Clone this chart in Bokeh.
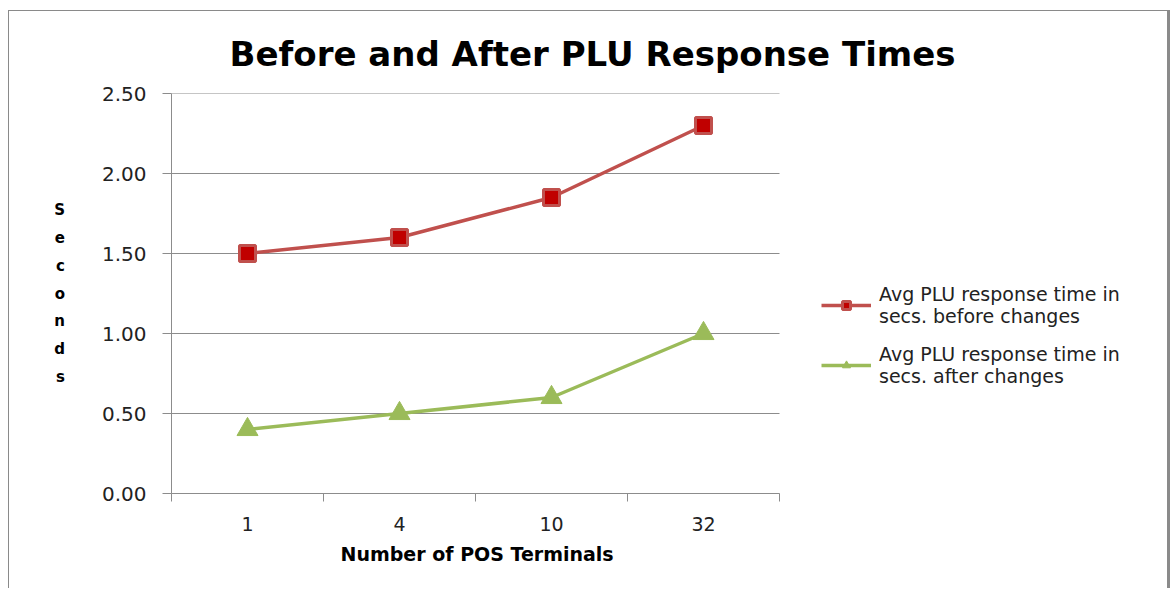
from bokeh.plotting import figure
from bokeh.models import FixedTicker, Legend, LegendItem, NumeralTickFormatter, Title
from bokeh.embed import file_html
from bokeh.resources import INLINE

categories = ["1", "4", "10", "32"]
before = [1.50, 1.60, 1.85, 2.30]
after = [0.40, 0.50, 0.60, 1.00]
y_ticks = [0.0, 0.5, 1.0, 1.5, 2.0, 2.5]
title_text = "Before and After PLU Response Times"
x_title = "Number of  POS Terminals"
y_title = "Seconds"
label_before = "Avg PLU response time in\nsecs. before changes"
label_after = "Avg PLU response time in\nsecs. after changes"

FONT = "DejaVu Sans"
RED_LINE = "#C0504D"
RED_FILL = "#C00000"
GREEN = "#9BBB59"
GRID = "#8C8C8C"

W, H = 1162, 578
LEFT, RIGHT, TOP, BOTTOM = 162, 5, 82, 96
frame_w = W - LEFT - RIGHT
cat_w = 152  # pixel width of one category slot
n = len(categories)
xs = [i + 0.5 for i in range(n)]

# the frame also hosts the legend area; axis and grid lines stop at the categories
p = figure(width=W, height=H, output_backend="svg", toolbar_location=None,
           x_range=(0, frame_w / cat_w), y_range=(0, 2.5),
           min_border_left=LEFT, min_border_right=RIGHT, min_border_top=TOP,
           min_border_bottom=BOTTOM)
p.outline_line_color = None
p.background_fill_color = "white"
p.border_fill_color = "white"
p.styles = {"margin-left": "8px", "margin-top": "10px",
            "border-left": "1px solid #8a8a8a", "border-top": "1px solid #8a8a8a",
            "border-right": "3px solid #8a8a8a", "box-sizing": "border-box"}

# title
p.title.text = title_text
p.title.align = "left"
p.title.vertical_align = "middle"
p.title.text_font = FONT
p.title.text_font_size = "34px"
p.title.text_font_style = "bold"
p.title.text_color = "black"
p.title.offset = 58
p.title.standoff = 38

# x axis
xa = p.xaxis[0]
xa.bounds = (0, n)
xa.ticker = FixedTicker(ticks=xs, minor_ticks=list(range(n + 1)))
xa.major_label_overrides = {x: c for x, c in zip(xs, categories)}
xa.major_tick_line_color = None
xa.major_tick_out = 0
xa.major_tick_in = 0
xa.minor_tick_out = 8
xa.minor_tick_in = 0
xa.minor_tick_line_color = GRID
xa.axis_line_color = GRID
xa.major_label_text_font = FONT
xa.major_label_text_font_size = "19px"
xa.major_label_text_color = "#222222"
xa.major_label_standoff = 15

# x axis title, centred under the category area
p.add_layout(Title(text=x_title, align="left", vertical_align="middle", offset=169,
                   standoff=16, text_font=FONT, text_font_size="19px",
                   text_font_style="bold", text_color="black"), "below")

# y axis
ya = p.yaxis[0]
ya.ticker = FixedTicker(ticks=y_ticks)
ya.formatter = NumeralTickFormatter(format="0.00")
ya.major_tick_out = 9
ya.major_tick_in = 0
ya.minor_tick_line_color = None
ya.major_tick_line_color = GRID
ya.axis_line_color = GRID
ya.major_label_text_font = FONT
ya.major_label_text_font_size = "20px"
ya.major_label_text_color = "#222222"
ya.major_label_standoff = 16
ya.axis_label = "\n".join(y_title)
ya.axis_label_orientation = "horizontal"
ya.axis_label_text_font = FONT
ya.axis_label_text_font_size = "15px"
ya.axis_label_text_font_style = "bold"
ya.axis_label_text_color = "black"
ya.axis_label_text_line_height = 1.55
ya.axis_label_standoff = 34

p.xgrid.grid_line_color = None
p.ygrid.grid_line_color = None
# horizontal grid lines limited to the category area
p.segment(x0=[0] * len(y_ticks), x1=[n] * len(y_ticks), y0=y_ticks, y1=y_ticks,
          line_color=GRID, line_width=1, level="underlay")

# series
r1 = p.line(xs, before, line_color=RED_LINE, line_width=3.5)
s1 = p.scatter(xs, before, marker="square", size=16, fill_color=RED_FILL,
               line_color=RED_LINE, line_width=3)
r2 = p.line(xs, after, line_color=GREEN, line_width=3.5)
s2 = p.scatter(xs, after, marker="triangle", size=21, fill_color=GREEN,
               line_color=GREEN, line_width=1)

legend = Legend(items=[LegendItem(label=label_before, renderers=[r1, s1]),
                       LegendItem(label=label_after, renderers=[r2, s2])],
                location=(cat_w * n + 42, 106))
legend.border_line_color = None
legend.background_fill_alpha = 0
legend.padding = 0
legend.margin = 0
legend.spacing = 16
legend.glyph_width = 50
legend.glyph_height = 20
legend.label_standoff = 8
legend.label_text_font = FONT
legend.label_text_font_size = "19px"
legend.label_text_color = "#222222"
p.add_layout(legend, "center")

open("out.html", "w").write(file_html(p, INLINE))
